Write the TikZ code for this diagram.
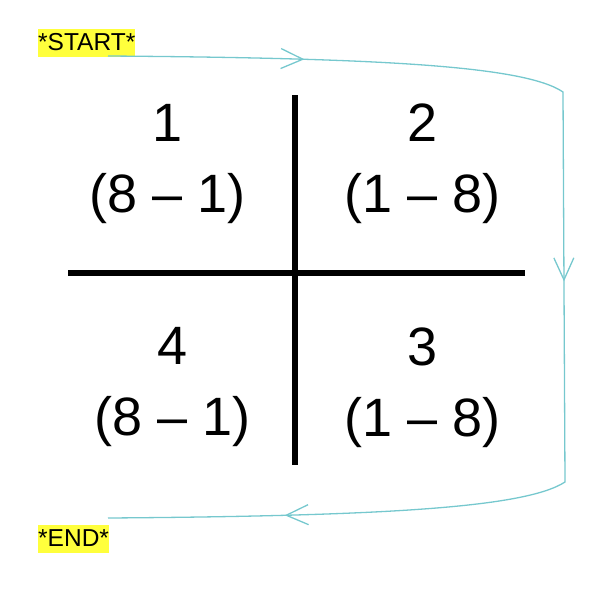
\documentclass[tikz,border=0pt]{standalone}
\usepackage{fontspec}
\setmainfont{Liberation Sans}
\usetikzlibrary{arrows.meta}
\usetikzlibrary{decorations.markings}
\definecolor{loopcyan}{RGB}{118,200,206}
\definecolor{tagyellow}{RGB}{255,255,60}

\begin{document}
\begin{tikzpicture}[x=1pt,y=-1pt,
  quadtext/.style={font=\fontsize{54}{71}\selectfont, align=center, inner sep=0pt},
  tagbox/.style={fill=tagyellow, anchor=north west, font=\fontsize{24.5}{24}\selectfont,
    inner xsep=0pt, inner ysep=2pt, text height=19pt, text depth=5pt},
  crossbar/.style={line width=6pt},
  barb/.tip={Straight Barb[length=22pt,width=20pt]},
  loopline/.style={draw=loopcyan, line width=1.3pt, postaction=decorate,
    decoration={markings,
      mark=at position 0.15 with {\arrow{barb}},
      mark=at position 0.495 with {\arrow{barb}},
      mark=at position 0.865 with {\arrow{barb}}}}]
  \useasboundingbox (0,0) rectangle (590,600);
  \newcommand{\crossx}{295}
  \newcommand{\crossy}{273}

% the cross
  \draw[crossbar] (\crossx,95) -- (\crossx,465);
  \draw[crossbar] (68,\crossy) -- (525,\crossy);

% quadrant numbers
  \node[quadtext] (quadone)   at (168,164) {1\\(8 -- 1)};
  \node[quadtext] (quadtwo)   at (423,164) {2\\(1 -- 8)};
  \node[quadtext] (quadthree) at (423,388) {3\\(1 -- 8)};
  \node[quadtext] (quadfour)  at (173,387) {4\\(8 -- 1)};

% start and end tags
  \node[tagbox] (start) at (38,29)  {*START*};
  \node[tagbox] (end)   at (38,525) {*END*};
  \coordinate (loopin)  at (108,56);
  \coordinate (loopout) at (108,518);

% the loop round the cross
  \draw[loopline] (loopin) .. controls (380,58) and (525,66) .. (563,92)
    -- (565,482) .. controls (525,508) and (380,516) .. (loopout);

\end{tikzpicture}
\end{document}
